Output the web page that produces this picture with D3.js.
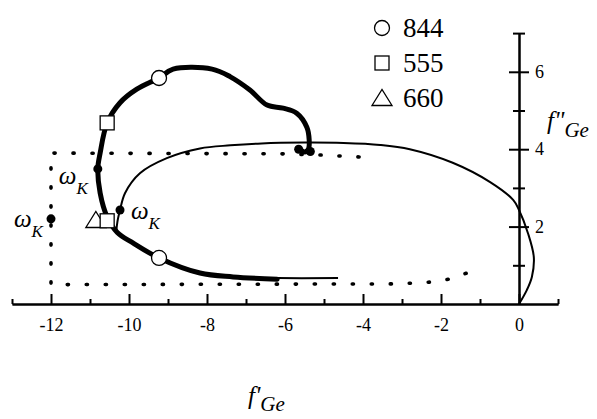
<!DOCTYPE html>
<html>
<head>
<meta charset="utf-8">
<script src="https://cdn.jsdelivr.net/npm/d3@7"></script>
<style>
body { margin: 0; background: #fff; }
</style>
</head>
<body>
<script>
// axis ticks
var xMajor = [-12, -10, -8, -6, -4, -2, 0];
var xMinor = [-13, -11, -9, -7, -5, -3, -1, 1];
var yMajor = [2, 4, 6];
var yMinor = [1, 3, 5, 7];

// thin curve (f', f'')
var thinCurve = [[0, 0], [0.2, 0.36], [0.33, 0.7], [0.38, 1.21], [0.23, 1.83], [0, 2.43],
	[-0.15, 2.69], [-0.74, 3.15], [-1.7, 3.65], [-2.8, 4.0], [-3.56, 4.11], [-4.5, 4.16],
	[-5.5, 4.17], [-6.6, 4.15], [-7.4, 4.1], [-8.18, 4.02], [-9.03, 3.77], [-9.72, 3.38],
	[-10.1, 2.87], [-10.23, 2.43], [-10.3, 2.1], [-10.3, 1.85], [-9.9, 1.58], [-9.23, 1.19],
	[-8.18, 0.8], [-7.33, 0.7], [-6.2, 0.67], [-4.64, 0.67]];

// thick curve
var thickCurve = [[-5.62, 4.0], [-5.5, 3.93], [-5.4, 4.0], [-5.38, 4.24], [-5.44, 4.57],
	[-5.7, 4.93], [-6.05, 5.06], [-6.46, 5.14], [-6.9, 5.53], [-7.4, 5.87], [-7.87, 6.07],
	[-8.87, 6.07], [-9.23, 5.84], [-9.8, 5.55], [-10.23, 5.2], [-10.56, 4.68], [-10.74, 3.9],
	[-10.8, 3.49], [-10.74, 2.87], [-10.56, 2.25], [-10.3, 1.85], [-9.9, 1.58], [-9.23, 1.19],
	[-8.18, 0.8], [-7.33, 0.7], [-6.2, 0.64]];

// dotted curve
var dottedCurve = [[-4.1, 3.8], [-5.1, 3.85], [-6, 3.88], [-12, 3.9], [-12, 0.5],
	[-3.2, 0.52], [-2.7, 0.54], [-2.23, 0.57], [-1.74, 0.65], [-1.26, 0.83]];

// markers
var circles = [[-9.23, 5.84], [-9.23, 1.19]];
var squares = [[-10.56, 4.68], [-10.56, 2.15]];
var triangles = [[-10.85, 2.17]];
var filledDots = [[-10.8, 3.49], [-10.23, 2.43], [-12, 2.2], [-5.65, 4.0], [-5.35, 3.94]];
var omegaLabels = [[-12.95, 2.0], [-11.8, 3.1], [-9.95, 2.2]];

var legendNames = ["844", "555", "660"];
var legendShapes = ["circle", "square", "triangle"];

var width = 597, height = 419;
var serif = "'Liberation Serif', Tinos, 'Times New Roman', Times, serif";

var svg = d3.select("body")
	.append("svg")
		.attr("width", width)
		.attr("height", height)
		.attr("font-family", serif);

var x = d3.scaleLinear().domain([-13, 1]).range([12, 558]);
var y = d3.scaleLinear().domain([0, 7]).range([304, 33.1]);

var line = d3.line()
	.x(function(d) { return x(d[0]); })
	.y(function(d) { return y(d[1]); })
	.curve(d3.curveCatmullRom);

var straight = d3.line()
	.x(function(d) { return x(d[0]); })
	.y(function(d) { return y(d[1]); });

// x axis, ticks pointing up
svg.append("g")
		.attr("transform", "translate(0," + y(0) + ")")
		.call(d3.axisBottom(x).tickValues(xMajor).tickSizeInner(-10).tickSizeOuter(0)
			.tickPadding(14).tickFormat(function(d) { return String(d); }));
svg.append("g")
		.attr("transform", "translate(0," + y(0) + ")")
		.call(d3.axisBottom(x).tickValues(xMinor).tickSizeInner(-5).tickSizeOuter(0)
			.tickFormat(""));

// y axis at f' = 0, ticks crossing
var yAxis = svg.append("g")
		.attr("transform", "translate(" + x(0) + ",0)")
		.call(d3.axisRight(y).tickValues(yMajor).tickSizeInner(10).tickSizeOuter(0)
			.tickPadding(6).tickFormat(function(d) { return String(d); }));
yAxis.selectAll(".tick line").attr("x1", -10);
var yMinorAxis = svg.append("g")
		.attr("transform", "translate(" + x(0) + ",0)")
		.call(d3.axisRight(y).tickValues(yMinor).tickSizeInner(6).tickSizeOuter(0)
			.tickFormat(""));
yMinorAxis.selectAll(".tick line").attr("x1", -6);

svg.selectAll("g").attr("font-family", serif);
svg.selectAll(".domain, .tick line")
		.attr("stroke", "#000")
		.attr("stroke-width", 2);
svg.selectAll(".tick text")
		.attr("font-family", serif)
		.attr("font-size", 18);

// curves
svg.append("path")
		.datum(dottedCurve)
		.attr("d", straight)
		.attr("fill", "none")
		.attr("stroke", "#000")
		.attr("stroke-width", 3.6)
		.attr("stroke-linecap", "round")
		.attr("stroke-dasharray", "1.2 17.8");

svg.append("path")
		.datum(thinCurve)
		.attr("d", line)
		.attr("fill", "none")
		.attr("stroke", "#000")
		.attr("stroke-width", 2);

svg.append("path")
		.datum(thickCurve)
		.attr("d", line)
		.attr("fill", "none")
		.attr("stroke", "#000")
		.attr("stroke-width", 5)
		.attr("stroke-linejoin", "round")
		.attr("stroke-linecap", "round");

svg.append("g").selectAll("circle")
		.data(filledDots)
	.enter().append("circle")
		.attr("cx", function(d) { return x(d[0]); })
		.attr("cy", function(d) { return y(d[1]); })
		.attr("r", 4.5)
		.attr("fill", "#000");

// open markers
function drawShape(g, shape, cx, cy) {
	if (shape === "circle") {
		g.append("circle").attr("cx", cx).attr("cy", cy).attr("r", 7.5);
	} else if (shape === "square") {
		g.append("rect").attr("x", cx - 7).attr("y", cy - 7).attr("width", 14).attr("height", 14);
	} else {
		g.append("path").attr("d", "M" + (cx - 10) + "," + (cy + 7.5) + "L" + cx + "," + (cy - 8.5)
			+ "L" + (cx + 10) + "," + (cy + 7.5) + "Z");
	}
}

var markers = svg.append("g")
		.attr("fill", "#fff")
		.attr("stroke", "#000")
		.attr("stroke-width", 1.3);
triangles.forEach(function(d) { drawShape(markers, "triangle", x(d[0]), y(d[1])); });
squares.forEach(function(d) { drawShape(markers, "square", x(d[0]), y(d[1])); });
circles.forEach(function(d) { drawShape(markers, "circle", x(d[0]), y(d[1])); });

// omega_K labels
omegaLabels.forEach(function(d) {
	var t = svg.append("text")
			.attr("x", x(d[0]))
			.attr("y", y(d[1]))
			.attr("font-family", serif)
			.attr("font-style", "italic")
			.attr("font-size", 25);
	t.append("tspan").text("\u03c9");
	t.append("tspan").attr("dy", 10).attr("font-size", 17).text("K");
});

// legend
var legend = svg.append("g");
legendNames.forEach(function(name, i) {
	var ly = 28 + i * 35;
	var g = legend.append("g")
			.attr("fill", "#fff")
			.attr("stroke", "#000")
			.attr("stroke-width", 1.3);
	drawShape(g, legendShapes[i], 382, ly);
	legend.append("text")
			.attr("x", 403)
			.attr("y", ly + 9)
			.attr("font-family", serif)
			.attr("font-size", 27)
			.text(name);
});

// axis titles
var xt = svg.append("text")
		.attr("x", 248)
		.attr("y", 404)
		.attr("font-family", serif)
		.attr("font-style", "italic")
		.attr("font-size", 25);
xt.append("tspan").text("f'");
xt.append("tspan").attr("dy", 7).attr("font-size", 21).text("Ge");

var yt = svg.append("text")
		.attr("x", 547)
		.attr("y", 129)
		.attr("font-family", serif)
		.attr("font-style", "italic")
		.attr("font-size", 25);
yt.append("tspan").text("f\"");
yt.append("tspan").attr("dy", 8).attr("font-size", 21).text("Ge");
</script>
</body>
</html>
